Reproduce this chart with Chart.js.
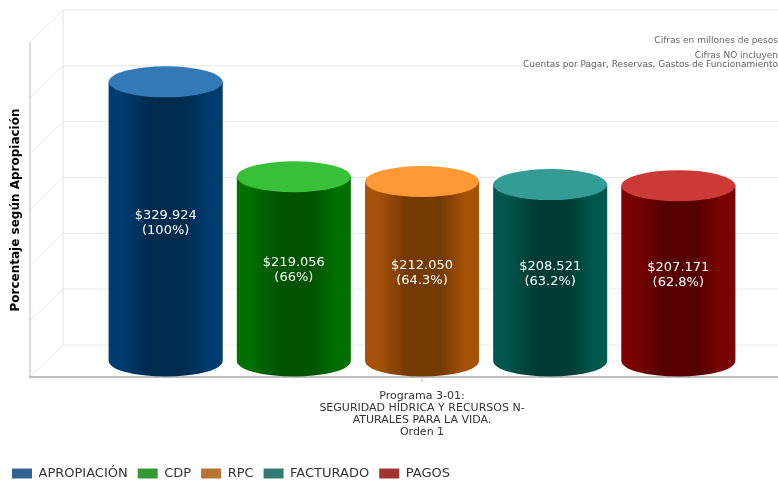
<!DOCTYPE html>
<html>
<head>
<meta charset="utf-8">
<title>Porcentaje según Apropiación</title>
<script src="https://cdn.jsdelivr.net/npm/chart.js@4"></script>
<style>
  html, body { margin: 0; padding: 0; background: #fff; overflow: hidden; }
  canvas { display: block; }
</style>
</head>
<body>
<canvas id="chart" width="778" height="481"></canvas>
<script>
// Values
const categoryLines = ["Programa 3-01:", "SEGURIDAD HÍDRICA Y RECURSOS N-", "ATURALES PARA LA VIDA.", "Orden 1"];
const seriesNames = ["APROPIACIÓN", "CDP", "RPC", "FACTURADO", "PAGOS"];
const percentValues = [100, 66, 64.3, 63.2, 62.8];
const amountLabels = ["$329.924", "$219.056", "$212.050", "$208.521", "$207.171"];
const percentLabels = ["(100%)", "(66%)", "(64.3%)", "(63.2%)", "(62.8%)"];
const noteLines = ["Cifras en millones de pesos", "Cifras NO incluyen", "Cuentas por Pagar, Reservas, Gastos de Funcionamiento"];

// Colours per series
const legendColors = ["#326392", "#339933", "#b87333", "#337a73", "#a33333"];
const capColors = ["#3379b5", "#38c138", "#ff9933", "#339c94", "#cc3a37"];
const edgeColors = ["#013c70", "#007000", "#a65209", "#00584d", "#790303"];
const coreColors = ["#012a4f", "#005400", "#733a04", "#003b35", "#570000"];

const FONT = '"DejaVu Sans", Verdana, sans-serif';
const DEPTH = 16;      // half the wall depth, vertical
const SLANT = 16.5;    // half the wall depth, horizontal
const CAP_RY = 15.5;

// walls and grid of the fake 3d box, taken from the y scale
const wallsPlugin = {
  id: "walls",
  beforeDatasetsDraw(chart) {
    const { ctx, chartArea, scales } = chart;
    const backX = chartArea.left - 3;
    const frontX = backX - SLANT * 2;
    ctx.save();
    ctx.strokeStyle = "#e8e8e8";
    ctx.lineWidth = 1;
    scales.y.ticks.forEach(t => {
      const y = scales.y.getPixelForValue(t.value);
      ctx.beginPath();
      ctx.moveTo(frontX, y + DEPTH);
      ctx.lineTo(backX, y - DEPTH);
      ctx.lineTo(chartArea.right, y - DEPTH);
      ctx.stroke();
    });

    // back edge
    ctx.beginPath();
    ctx.moveTo(backX, scales.y.top - DEPTH);
    ctx.lineTo(backX, scales.y.bottom - DEPTH);
    ctx.strokeStyle = "#e4e4e4";
    ctx.stroke();

    // front edge and floor
    ctx.beginPath();
    ctx.moveTo(frontX, scales.y.top + DEPTH);
    ctx.lineTo(frontX, scales.y.bottom + DEPTH);
    ctx.strokeStyle = "#dcdcdc";
    ctx.lineWidth = 2;
    ctx.stroke();
    ctx.beginPath();
    ctx.moveTo(frontX - 1, scales.y.bottom + DEPTH);
    ctx.lineTo(chartArea.right, scales.y.bottom + DEPTH);
    ctx.strokeStyle = "#bdbdbd";
    ctx.stroke();

    // tick under the category
    const tickX = scales.x.getPixelForValue(0);
    ctx.beginPath();
    ctx.moveTo(tickX, scales.y.bottom + DEPTH);
    ctx.lineTo(tickX, scales.y.bottom + DEPTH + 5);
    ctx.strokeStyle = "#c0c0c0";
    ctx.lineWidth = 1;
    ctx.stroke();
    ctx.restore();
  }
};

// repaints each bar element as a cylinder
const cylinderPlugin = {
  id: "cylinder",
  afterDatasetDraw(chart, args) {
    const { ctx } = chart;
    const i = args.index;
    const bar = chart.getDatasetMeta(i).data[0];
    const rx = bar.width / 2;
    const left = bar.x - rx;
    const right = bar.x + rx;

    const grad = ctx.createLinearGradient(left, 0, right, 0);
    grad.addColorStop(0, edgeColors[i]);
    grad.addColorStop(0.12, edgeColors[i]);
    grad.addColorStop(0.36, coreColors[i]);
    grad.addColorStop(0.66, coreColors[i]);
    grad.addColorStop(0.88, edgeColors[i]);
    grad.addColorStop(1, edgeColors[i]);

    ctx.save();
    // clear the flat bar first
    ctx.fillStyle = "#fff";
    ctx.fillRect(left, bar.y, bar.width, bar.base - bar.y);
    ctx.beginPath();
    ctx.moveTo(left, bar.y);
    ctx.lineTo(left, bar.base);
    ctx.ellipse(bar.x, bar.base, rx, CAP_RY, 0, Math.PI, 0, true);
    ctx.lineTo(right, bar.y);
    ctx.closePath();
    ctx.fillStyle = grad;
    ctx.fill();

    ctx.beginPath();
    ctx.ellipse(bar.x, bar.y, rx, CAP_RY, 0, 0, Math.PI * 2);
    ctx.fillStyle = capColors[i];
    ctx.fill();

    ctx.fillStyle = "#ffffff";
    ctx.font = "13px " + FONT;
    ctx.textAlign = "center";
    ctx.textBaseline = "middle";
    const midY = (bar.y + bar.base) / 2 + 1;
    ctx.fillText(amountLabels[i], bar.x, midY - 7);
    ctx.fillText(percentLabels[i], bar.x, midY + 8);
    ctx.restore();
  }
};

// y title and the notes in the corner
const textPlugin = {
  id: "notes",
  afterDraw(chart) {
    const { ctx } = chart;
    ctx.save();
    ctx.translate(16, 210);
    ctx.rotate(-Math.PI / 2);
    ctx.fillStyle = "#000";
    ctx.font = "bold 12px " + FONT;
    ctx.textAlign = "center";
    ctx.textBaseline = "middle";
    ctx.fillText("Porcentaje según Apropiación", 0, 0);
    ctx.restore();

    ctx.save();
    ctx.fillStyle = "#666";
    ctx.font = "9px " + FONT;
    ctx.textAlign = "right";
    ctx.textBaseline = "middle";
    ctx.fillText(noteLines[0], 778, 41);
    ctx.fillText(noteLines[1], 778, 56);
    ctx.fillText(noteLines[2], 778, 65);
    ctx.restore();
  }
};

const datasets = seriesNames.map((name, i) => ({
  label: name,
  data: [percentValues[i]],
  backgroundColor: legendColors[i],
  borderWidth: 0,
  categoryPercentage: 0.9,
  barPercentage: 0.889
}));

new Chart(document.getElementById("chart"), {
  type: "bar",
  data: { labels: [categoryLines], datasets },
  plugins: [wallsPlugin, cylinderPlugin, textPlugin],
  options: {
    responsive: false,
    animation: false,
    layout: { padding: { left: 2, right: 0, top: 26, bottom: -9 } },
    plugins: {
      tooltip: { enabled: false },
      legend: {
        position: "bottom",
        align: "start",
        labels: {
          boxWidth: 20,
          boxHeight: 10,
          padding: 10,
          color: "#333",
          font: { family: FONT, size: 13 }
        }
      }
    },
    scales: {
      x: {
        grid: { display: false, drawTicks: false },
        border: { display: false },
        afterFit: s => { s.height = 96; },
        ticks: {
          padding: 29,
          maxRotation: 0,
          color: "#333",
          font: { family: FONT, size: 11, lineHeight: 1.09 }
        }
      },
      y: {
        min: 0,
        max: 120,
        grid: { display: false },
        border: { display: false },
        afterFit: s => { s.width = 64; },
        ticks: { stepSize: 20, display: false }
      }
    }
  }
});
</script>
</body>
</html>
